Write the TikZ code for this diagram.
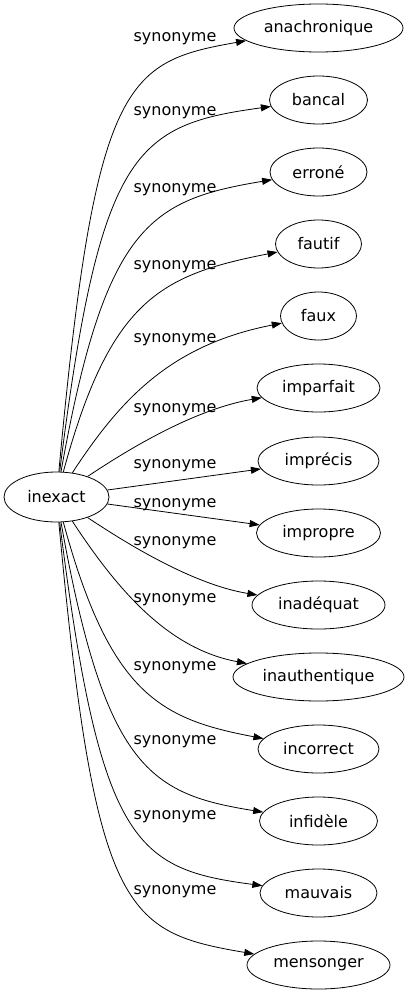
\documentclass[tikz,border=0pt]{standalone}
\usepackage{fontspec}
\setmainfont{DejaVu Sans}
\usetikzlibrary{arrows.meta,shapes.geometric}
\begin{document}
\begin{tikzpicture}[x=1pt,y=-1pt,
  every node/.style={font=\fontsize{16}{19}\selectfont},
  word/.style={draw, ellipse, inner sep=0pt, minimum height=48pt, line width=0.8pt},
  lbl/.style={inner sep=0pt},
  syn/.style={draw, line width=0.8pt, -{Triangle[length=10pt,width=7pt]}}]
\useasboundingbox (0,0) rectangle (409,995);
\node[word, minimum width=105pt, minimum height=50pt] (inexact) at (56.5,497) {inexact};
\node[word, minimum width=169pt] (n1) at (318.5,28) {anachronique};
\node[word, minimum width=98pt] (n2) at (318.5,100) {bancal};
\node[word, minimum width=97pt] (n3) at (318.5,172) {erroné};
\node[word, minimum width=86pt] (n4) at (318.5,244) {fautif};
\node[word, minimum width=76pt] (n5) at (318.5,316) {faux};
\node[word, minimum width=123pt] (n6) at (318.5,388) {imparfait};
\node[word, minimum width=121pt] (n7) at (318.5,461) {imprécis};
\node[word, minimum width=124pt] (n8) at (318.5,533) {impropre};
\node[word, minimum width=133pt] (n9) at (318.5,605) {inadéquat};
\node[word, minimum width=171pt] (n10) at (318.5,677) {inauthentique};
\node[word, minimum width=121pt] (n11) at (318.5,749) {incorrect};
\node[word, minimum width=118pt] (n12) at (318.5,821) {infidèle};
\node[word, minimum width=117pt] (n13) at (318.5,893) {mauvais};
\node[word, minimum width=143pt] (n14) at (318.5,965) {mensonger};

\draw[syn] (inexact) .. controls (95,80) and (125,62) .. (n1);
\draw[syn] (inexact) .. controls (100,150) and (135,125) .. (n2);
\draw[syn] (inexact) .. controls (105,225) and (150,200) .. (n3);
\draw[syn] (inexact) .. controls (110,300) and (160,275) .. (n4);
\draw[syn] (inexact) .. controls (120,400) and (170,345) .. (n5);
\draw[syn] (inexact) .. controls (120,455) and (190,410) .. (n6);
\draw[syn] (inexact) -- (n7);
\draw[syn] (inexact) -- (n8);
\draw[syn] (inexact) .. controls (120,539) and (190,584) .. (n9);
\draw[syn] (inexact) .. controls (120,594) and (170,649) .. (n10);
\draw[syn] (inexact) .. controls (110,694) and (160,719) .. (n11);
\draw[syn] (inexact) .. controls (105,769) and (150,794) .. (n12);
\draw[syn] (inexact) .. controls (100,844) and (135,869) .. (n13);
\draw[syn] (inexact) .. controls (95,914) and (125,932) .. (n14);

\node[lbl] (l1) at (175,39) {synonyme};
\node[lbl] (l2) at (175,113) {synonyme};
\node[lbl] (l3) at (175,190) {synonyme};
\node[lbl] (l4) at (175,267) {synonyme};
\node[lbl] (l5) at (175,340) {synonyme};
\node[lbl] (l6) at (175,410) {synonyme};
\node[lbl] (l7) at (175,466) {synonyme};
\node[lbl] (l8) at (175,505) {synonyme};
\node[lbl] (l9) at (175,543) {synonyme};
\node[lbl] (l10) at (175,600) {synonyme};
\node[lbl] (l11) at (175,668) {synonyme};
\node[lbl] (l12) at (175,742) {synonyme};
\node[lbl] (l13) at (175,817) {synonyme};
\node[lbl] (l14) at (175,892) {synonyme};
\end{tikzpicture}
\end{document}
